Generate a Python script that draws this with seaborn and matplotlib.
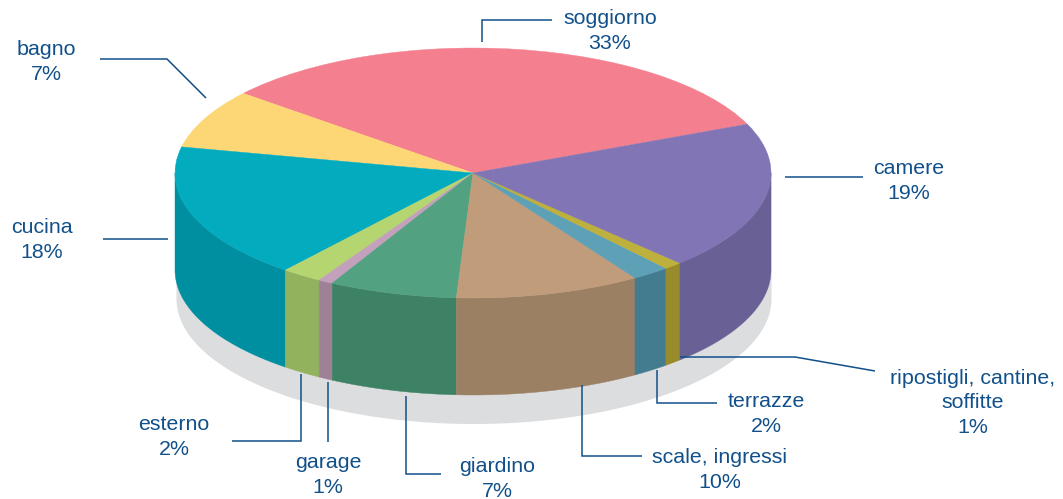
import numpy as np
import matplotlib
matplotlib.use("Agg")
import matplotlib.pyplot as plt
import seaborn as sns

rooms = ["soggiorno", "bagno", "cucina", "esterno", "garage", "giardino",
         "scale, ingressi", "terrazze", "ripostigli, cantine,\nsoffitte", "camere"]
# printed (rounded) percentages
shares = [33, 7, 18, 2, 1, 7, 10, 2, 1, 19]
# unrounded shares
slice_shares = [32.6, 7.64, 17.5, 2.2, 0.8, 6.94, 10.03, 2.06, 1.0, 19.17]
top_colors = ["#F4808F", "#FDD775", "#03ABBF", "#B5D571", "#C3A0BC",
              "#52A180", "#C09C7B", "#5EA0B6", "#BDB03C", "#8175B5"]
wall_colors = ["#D0606F", "#D8B050", "#008FA0", "#93B25E", "#9F8197",
               "#3E8266", "#9C8064", "#447C8F", "#978B2C", "#696096"]
label_px = [(610, 31), (46, 62), (42, 240), (174, 437), (328, 475),
            (497, 479), (720, 470), (766, 414), (973, 403), (909, 181)]
leaders_px = [
    [(482, 42), (482, 20), (552, 20)],
    [(100, 59), (167, 59), (206, 98)],
    [(103, 239), (168, 239)],
    [(232, 441), (301, 441), (301, 374)],
    [(328, 382), (328, 442)],
    [(406, 396), (406, 474), (441, 474)],
    [(582, 385), (582, 456), (642, 456)],
    [(657, 370), (657, 403), (717, 403)],
    [(680, 357), (795, 357), (875, 371)],
    [(785, 177), (863, 177)],
]
TEXT = "#11508A"
SHADOW = "#DCDDDF"
CX, CY, RX, RY = 473.0, 173.0, 298.0, 125.0
DEPTH = 97.0 / RY
SHADOW_DEPTH = 126.0 / RY
START = 23.0

sns.set_theme(style="white")
plt.rcParams["font.family"] = ["Liberation Sans", "DejaVu Sans"]

fig = plt.figure(figsize=(10.63, 4.99), dpi=100)
ax = fig.add_axes([0, 0, 1, 1])


def px(p):
    return (p[0] - CX) / RX, (CY - p[1]) / RY


# grey ground shadow
t = np.linspace(np.pi, 2 * np.pi, 200)
sx = np.cos(t) * 297.5 / RX + 1.0 / RX
ax.fill(np.r_[sx[0], sx, sx[-1]], np.r_[0, np.sin(t) - SHADOW_DEPTH, 0],
        color=SHADOW, lw=0, zorder=1)

# side walls of every slice
fractions = np.array(slice_shares) / np.sum(slice_shares)
edges = START + np.r_[0, np.cumsum(fractions)] * 360
for a0, a1, c in zip(edges[:-1], edges[1:], wall_colors):
    for lo, hi in [(a0, a1), (a0 - 360, a1 - 360)]:
        lo2, hi2 = max(lo, -180), min(hi, 0)
        if hi2 <= lo2:
            continue
        th = np.radians(np.linspace(lo2, hi2, 80))
        xs = np.r_[np.cos(th), np.cos(th)[::-1]]
        ys = np.r_[np.sin(th), (np.sin(th) - DEPTH)[::-1]]
        ax.fill(xs, ys, color=c, lw=0.3, zorder=2)

# top face
wedges, _ = ax.pie(slice_shares, colors=top_colors, startangle=START, counterclock=True,
                   radius=1.0, center=(0, 0),
                   wedgeprops=dict(linewidth=0.3))
for w, c in zip(wedges, top_colors):
    w.set_edgecolor(c)
    w.set_zorder(3)

ax.set_aspect("auto")
ax.set_xlim((0 - CX) / RX, (1063 - CX) / RX)
ax.set_ylim((CY - 499) / RY, CY / RY)
ax.axis("off")

# leader lines and labels
for room, share, lp, ld in zip(rooms, shares, label_px, leaders_px):
    pts = np.array([px(p) for p in ld])
    ax.plot(pts[:, 0], pts[:, 1], color=TEXT, lw=1.1, zorder=4,
            solid_capstyle="butt", solid_joinstyle="miter")
    x, y = px(lp)
    ax.text(x, y, f"{room}\n{share}%", ha="center", va="center", color=TEXT,
            fontsize=15.4, linespacing=1.35, zorder=5)

fig.savefig("out.png", dpi=100, facecolor="white")
